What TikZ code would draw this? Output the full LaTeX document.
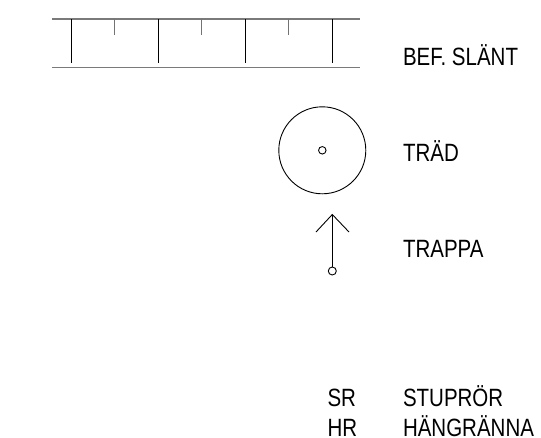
\documentclass[tikz,border=0pt]{standalone}
\usepackage{fontspec}
\setmainfont[FakeStretch=0.82]{Liberation Sans}
\tikzset{
  lbl/.style={anchor=base west,inner sep=0pt,outer sep=0pt,font=\fontsize{25}{30}\selectfont,text=black},
  ln/.style={line width=0.9pt,draw=black},
  rail/.style={line width=1.5pt,draw=black!52},
  shorttick/.style={line width=1.4pt,draw=black!55},
}
\begin{document}
\begin{tikzpicture}[x=1pt,y=-1pt]
\useasboundingbox (0,0) rectangle (541,437);
% slope symbol
\draw[rail] (52,19) -- (360,19);
\draw[rail] (52,67.7) -- (360,67.7);
\foreach \x in {71,158,245,332} \draw[ln] (\x,19) -- (\x,63);
\foreach \x in {114.7,201.7,288.7} \draw[shorttick] (\x,19) -- (\x,35);
% tree
\node[circle,ln,draw,minimum size=87pt,inner sep=0pt] (tree) at (322.3,150.3) {};
\node[circle,ln,draw,minimum size=7.5pt,inner sep=0pt] (treec) at (322.3,150.3) {};
% stair
\node[circle,ln,draw,minimum size=8pt,inner sep=0pt] (foot) at (332.3,271) {};
\coordinate (tip) at (332.3,214.5);
\coordinate (bl) at (316,232);
\coordinate (br) at (349,232);
\draw[ln] (foot) -- (tip);
\draw[ln] (bl) -- (tip) -- (br);
% labels
\node[lbl] (a) at (403,65) {BEF. SLÄNT};
\node[lbl] (b) at (403,161) {TRÄD};
\node[lbl] (c) at (403,257.5) {TRAPPA};
\node[lbl] (d) at (327.5,406) {SR};
\node[lbl] (e) at (403,406) {STUPRÖR};
\node[lbl] (f) at (327.5,436.5) {HR};
\node[lbl] (g) at (403,436.5) {HÄNGRÄNNA};
\end{tikzpicture}
\end{document}
